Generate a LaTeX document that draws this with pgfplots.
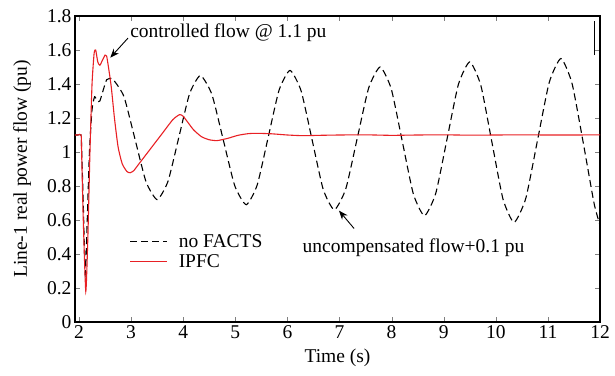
\documentclass[border=0pt]{standalone}
\usepackage{pgfplots}
\pgfplotsset{compat=1.18}
\usepackage{fontspec}
\setmainfont{Liberation Serif}
\usetikzlibrary{arrows.meta}
\definecolor{ipfc}{RGB}{232,32,36}
\begin{document}
\begin{tikzpicture}
\begin{axis}[
  scale only axis, width=525pt, height=306pt,
  xmin=1.923, xmax=12, ymin=0, ymax=1.8,
  xtick={2,3,...,12}, ytick={0,0.2,...,1.8},
  yticklabels={0,0.2,0.4,0.6,0.8,1,1.2,1.4,1.6,1.8},
  tick align=inside, major tick length=5pt,
  /pgf/number format/assume math mode=true,
  tick label style={font=\fontsize{19.5}{22}\selectfont},
  label style={font=\fontsize{19.5}{22}\selectfont},
  xlabel={Time (s)}, ylabel={Line-1 real power flow (pu)},
  xlabel style={at={(axis description cs:0.5,-0.118)}, anchor=center},
  ylabel style={at={(axis description cs:-0.101,0.5)}, anchor=center},
  axis line style={line width=1.1pt},
  legend style={draw=none, fill=none, at={(axis description cs:0.098,0.30)}, anchor=north west,
    font=\fontsize{19.5}{20}\selectfont, row sep=1.5pt,
    /tikz/every odd column/.append style={column sep=9pt}},
  legend cell align=left,
  legend image code/.code={\draw[#1] (0pt,0pt) -- (37pt,0pt);},
]
\addplot[black, line width=1.1pt, dash pattern=on 7pt off 4pt, smooth, tension=0.35] coordinates {
(1.923,1.1)(1.98,1.1)(2.04,1.1)(2.05,1.02)(2.08,0.72)(2.12,0.28)(2.16,0.62)(2.2,1.0)(2.25,1.25)(2.30,1.325)
(2.35,1.30)(2.40,1.30)(2.47,1.37)(2.53,1.425)(2.58,1.432)(2.66,1.425)
(2.8625,1.326)(3.075,1.075)(3.2875,0.824)(3.50,0.72)
(3.7075,0.827)(3.915,1.085)(4.1225,1.343)(4.33,1.45)
(4.55,1.339)(4.77,1.07)(4.99,0.801)(5.21,0.69)
(5.42,0.806)(5.63,1.085)(5.84,1.364)(6.05,1.48)
(6.2625,1.36)(6.475,1.07)(6.6875,0.78)(6.90,0.66)
(7.12,0.783)(7.34,1.08)(7.56,1.377)(7.78,1.50)
(7.9925,1.372)(8.205,1.0625)(8.4175,0.753)(8.63,0.625)
(8.8475,0.757)(9.065,1.078)(9.2825,1.398)(9.50,1.53)
(9.7125,1.392)(9.925,1.058)(10.1375,0.724)(10.35,0.586)
(10.575,0.727)(10.8,1.068)(11.025,1.409)(11.25,1.55)
(11.4625,1.404)(11.675,1.06)(11.8875,0.696)(12.0,0.57)
};
\addlegendentry{no FACTS}
\addplot[ipfc, line width=1.1pt, smooth, tension=0.35] coordinates {
(1.923,1.1)(1.98,1.1)(2.04,1.1)(2.05,1.0)(2.08,0.62)(2.13,0.18)(2.17,0.5)(2.21,1.0)(2.25,1.4)(2.29,1.58)
(2.32,1.60)(2.36,1.53)(2.40,1.51)(2.45,1.54)(2.50,1.57)(2.53,1.565)(2.57,1.49)(2.62,1.38)
(2.68,1.2)(2.75,1.03)(2.83,0.93)(2.92,0.885)(2.98,0.878)(3.05,0.89)(3.15,0.93)
(3.4,1.03)(3.6,1.11)(3.8,1.19)(3.93,1.22)(4.0,1.21)(4.1,1.17)(4.2,1.13)(4.35,1.09)
(4.5,1.072)(4.65,1.067)(4.85,1.08)(5.05,1.098)(5.25,1.108)(5.42,1.11)(5.7,1.107)
(6.0,1.1)(6.3,1.096)(6.6,1.098)(7.0,1.1)(7.5,1.101)(8.0,1.098)(8.5,1.1)(9.0,1.101)
(9.5,1.099)(10.0,1.1)(10.5,1.101)(11.0,1.1)(11.5,1.1)(12.0,1.101)
};
\addlegendentry{IPFC}
\addplot[black, line width=1.3pt, forget plot] coordinates {(11.9,1.57)(11.9,1.77)};
\node[anchor=west, font=\fontsize{19.5}{22}\selectfont, inner sep=0pt] at (axis cs:2.98,1.70) {controlled flow @ 1.1 pu};
\draw[-{Stealth[length=9pt,width=7pt]}, line width=0.9pt] (axis cs:2.94,1.67) -- (axis cs:2.60,1.555);
\node[anchor=west, font=\fontsize{19.5}{22}\selectfont, inner sep=0pt] at (axis cs:6.29,0.435) {uncompensated flow+0.1 pu};
\draw[-{Stealth[length=9pt,width=7pt]}, line width=0.9pt] (axis cs:7.28,0.55) -- (axis cs:6.99,0.655);
\end{axis}
\path ([shift={(-75pt,-53pt)}]current axis.south west) rectangle ([shift={(15pt,16pt)}]current axis.north east);
\end{tikzpicture}
\end{document}
